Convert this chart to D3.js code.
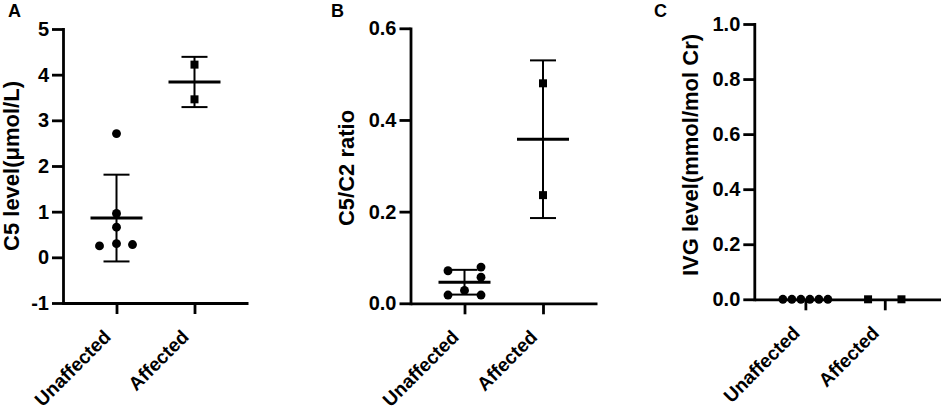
<!DOCTYPE html>
<html>
<head>
<meta charset="utf-8">
<script src="https://cdn.jsdelivr.net/npm/d3@7"></script>
<style>
  html, body { margin: 0; padding: 0; background: #fff; }
  svg { display: block; }
  text { font-family: "Liberation Sans", Arial, sans-serif; font-weight: bold; fill: #000; }
</style>
</head>
<body>
<svg id="chart" width="941" height="410"></svg>
<script>
// ---------------- DATA ----------------
const categories = ["Unaffected", "Affected"];

// Panel A: C5 level (µmol/L)
const c5Unaffected = [2.71, 0.96, 0.66, 0.30, 0.25, 0.28];
const c5Affected   = [4.22, 3.46];
const c5Mean = [0.86, 3.84];
const c5SD   = [0.95, 0.55];
const c5Ticks = [-1, 0, 1, 2, 3, 4, 5];

// Panel B: C5/C2 ratio
const ratioUnaffected = [0.071, 0.079, 0.057, 0.028, 0.018, 0.018];
const ratioAffected   = [0.480, 0.236];
const ratioMean = [0.046, 0.358];
const ratioSD   = [0.027, 0.172];
const ratioTicks = [0.0, 0.2, 0.4, 0.6];

// Panel C: IVG level (mmol/mol Cr)
const ivgUnaffected = [0, 0, 0, 0, 0, 0];
const ivgAffected   = [0, 0];
const ivgTicks = [0.0, 0.2, 0.4, 0.6, 0.8, 1.0];

// ---------------- LAYOUT ----------------
const hyphen = f => v => f(v).replace("\u2212", "-");
const panels = [
  { letter: "A", letterX: 8, title: "C5 level(\u03bcmol/L)", titleX: 19, titleY: 166,
    x0: 63, x1: 248, yTop: 29, yBot: 303, domain: [-1, 5], ticks: c5Ticks, fmt: hyphen(d3.format("d")),
    pad: 0.686, align: 0.5,
    groups: [c5Unaffected, c5Affected], mean: c5Mean, sd: c5SD,
    jitter: [[0, 0, 0, 0, -17, 16], [0, 0]] },
  { letter: "B", letterX: 331, title: "C5/C2 ratio", titleX: 354, titleY: 168,
    x0: 410.5, x1: 597, yTop: 28.3, yBot: 303.3, domain: [0, 0.6], ticks: ratioTicks, fmt: hyphen(d3.format(".1f")),
    pad: 0.688, align: 0.5,
    groups: [ratioUnaffected, ratioAffected], mean: ratioMean, sd: ratioSD,
    jitter: [[-16.5, 16.5, 16.5, 0, -16.5, 16.5], [0, 0]] },
  { letter: "C", letterX: 654, title: "IVG level(mmol/mol Cr)", titleX: 698, titleY: 155,
    x0: 754.3, x1: 941, yTop: 24, yBot: 299.3, domain: [0, 1], ticks: ivgTicks, fmt: hyphen(d3.format(".1f")),
    pad: 0.676, align: 0.476,
    groups: [ivgUnaffected, ivgAffected], mean: null, sd: null,
    jitter: [[-22.5, -13.5, -4.5, 4.5, 13.5, 22.5], [-16.7, 16.7]] }
];

const svg = d3.select("#chart");
const shapes = [d3.symbolCircle, d3.symbolSquare];
const shapeSize = [62, 64];
const FONT = "Liberation Sans, Arial, sans-serif";

panels.forEach(p => {
  const g = svg.append("g");
  const y = d3.scaleLinear().domain(p.domain).range([p.yBot, p.yTop]);
  const x = d3.scalePoint().domain(categories).range([p.x0, p.x1]).padding(p.pad).align(p.align);

  // panel letter
  g.append("text").attr("x", p.letterX).attr("y", 17).attr("font-size", 18).text(p.letter);

  // y axis title
  g.append("text")
    .attr("transform", `translate(${p.titleX},${p.titleY}) rotate(-90)`)
    .attr("text-anchor", "middle").attr("font-size", 22).text(p.title);

  // y axis
  const ya = g.append("g").attr("transform", `translate(${p.x0},0)`)
    .call(d3.axisLeft(y).tickValues(p.ticks).tickFormat(p.fmt).tickSize(11).tickPadding(3).tickSizeOuter(0));
  ya.selectAll("path, line").attr("stroke", "#000").attr("stroke-width", 2.8);
  ya.select("path.domain").attr("stroke-linecap", "square");
  ya.selectAll("text").attr("font-size", 20).attr("font-family", FONT).attr("font-weight", "bold").attr("fill", "#000");

  // x axis
  const xa = g.append("g").attr("transform", `translate(0,${p.yBot})`)
    .call(d3.axisBottom(x).tickSize(11).tickSizeOuter(0));
  xa.selectAll("path, line").attr("stroke", "#000").attr("stroke-width", 2.8);
  xa.selectAll("text")
    .attr("font-size", 19).attr("font-family", FONT).attr("font-weight", "bold").attr("fill", "#000")
    .attr("text-anchor", "end").attr("dy", null).attr("y", null)
    .attr("transform", "translate(-5,35) rotate(-45)");

  // mean & SD
  if (p.mean) {
    categories.forEach((c, i) => {
      const cx = x(c);
      const lo = y(p.mean[i] - p.sd[i]), hi = y(p.mean[i] + p.sd[i]);
      const eg = g.append("g").attr("stroke", "#000").attr("fill", "none");
      eg.append("line").attr("x1", cx).attr("x2", cx).attr("y1", lo).attr("y2", hi).attr("stroke-width", 2);
      eg.append("line").attr("x1", cx - 13).attr("x2", cx + 13).attr("y1", lo).attr("y2", lo).attr("stroke-width", 2);
      eg.append("line").attr("x1", cx - 13).attr("x2", cx + 13).attr("y1", hi).attr("y2", hi).attr("stroke-width", 2);
      eg.append("line").attr("x1", cx - 26).attr("x2", cx + 26).attr("y1", y(p.mean[i])).attr("y2", y(p.mean[i])).attr("stroke-width", 3);
    });
  }

  // points
  p.groups.forEach((vals, gi) => {
    const cx = x(categories[gi]);
    g.selectAll(null).data(vals).enter().append("path")
      .attr("d", d3.symbol().type(shapes[gi]).size(shapeSize[gi]))
      .attr("transform", (d, k) => `translate(${cx + p.jitter[gi][k]},${y(d)})`)
      .attr("fill", "#000");
  });
});
</script>
</body>
</html>
